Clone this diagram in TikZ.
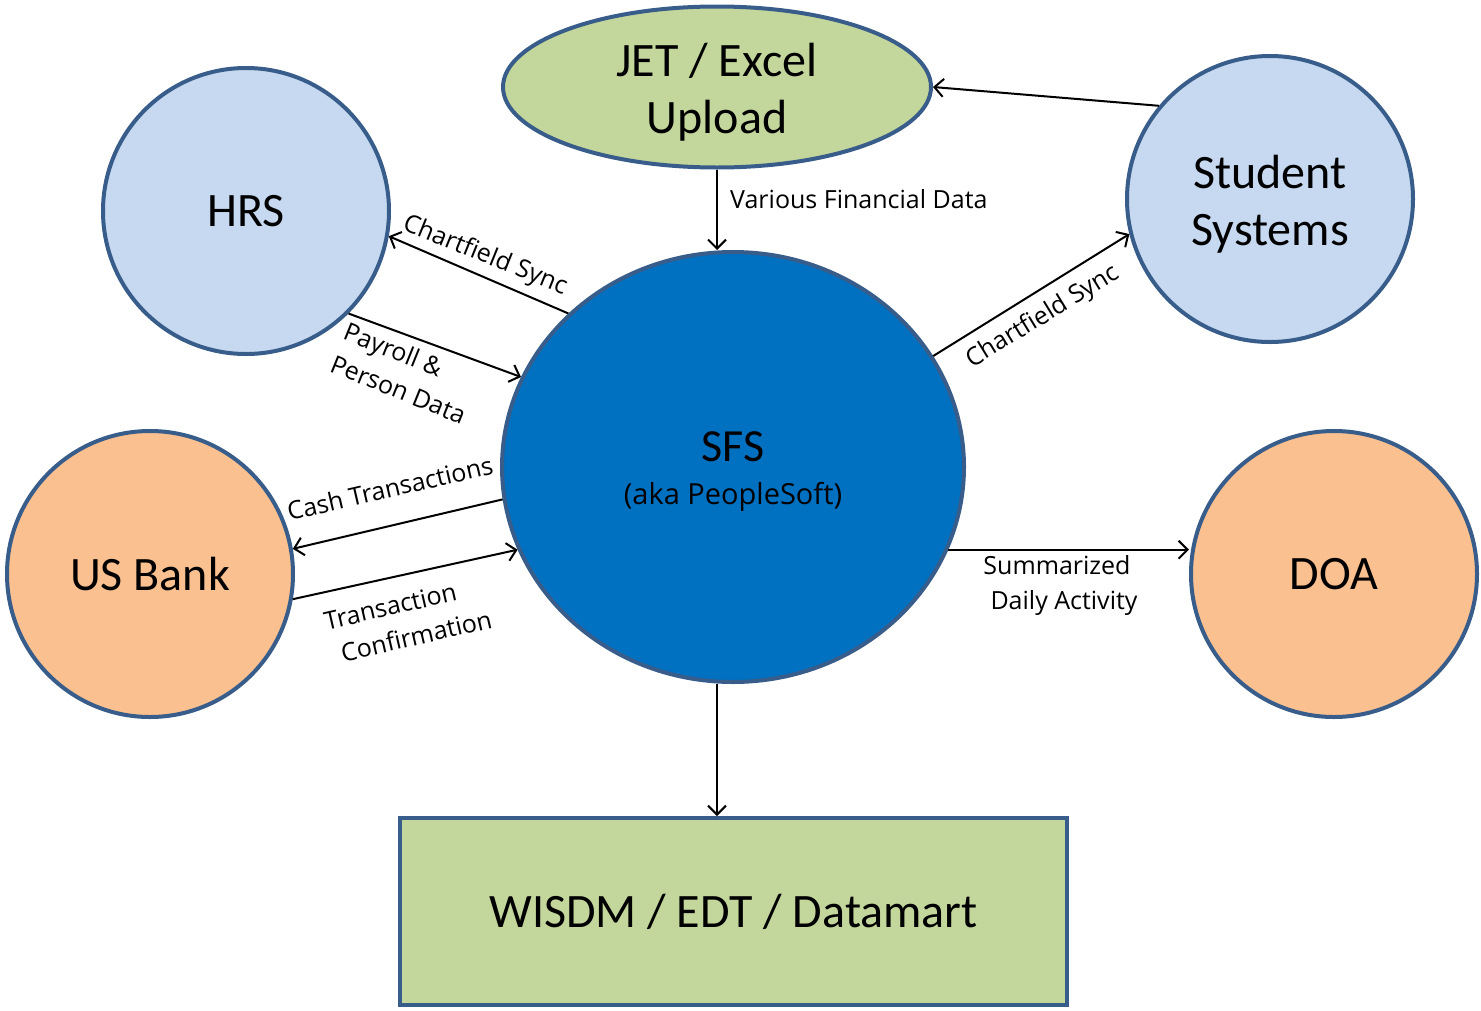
\documentclass[tikz,border=0pt]{standalone}
\usepackage{fontspec}
\setmainfont{Carlito}
\newfontfamily\lblfont{Open Sans}
\usetikzlibrary{shapes.geometric,arrows.meta}
\definecolor{bord}{HTML}{385D8A}
\definecolor{ltblue}{HTML}{C6D9F0}
\definecolor{ltgreen}{HTML}{C3D69B}
\definecolor{ltorange}{HTML}{FAC090}
\definecolor{sfsblue}{HTML}{0070C0}
\tikzset{
  sysnode/.style={circle, draw=bord, line width=4pt, minimum size=286pt, inner sep=0pt,
    font=\fontsize{48}{58}\selectfont, align=center},
  bigtext/.style={font=\fontsize{48}{57}\selectfont, align=center, inner sep=0pt},
  flow/.style={line width=2pt, -{Straight Barb[length=9pt,width=18pt,line width=2pt]}},
  lbl/.style={font=\lblfont\fontsize{25}{35}\selectfont, inner sep=0pt},
}
\begin{document}
\begin{tikzpicture}[x=1pt,y=-1pt]
\useasboundingbox (0,0) rectangle (1481,1010);
% nodes
\node[ellipse, draw=bord, line width=4pt, fill=ltgreen, minimum width=428pt, minimum height=161pt, inner sep=0pt] (jet) at (717,87) {};
\node[bigtext] (jett) at (717,92) {JET / Excel\\Upload};
\node[sysnode, fill=ltblue] (hrs) at (246,211) {HRS};
\node[sysnode, fill=ltblue] (stu) at (1270,199) {};
\node[bigtext] (stut) at (1270,204) {Student\\Systems};
\node[sysnode, fill=ltorange] (bank) at (150,574) {US Bank};
\node[sysnode, fill=ltorange] (doa) at (1334,574) {DOA};
\node[ellipse, draw=bord, line width=4pt, fill=sfsblue, minimum width=462pt, minimum height=430pt,
  inner sep=0pt] (sfs) at (733,467) {};
\node[font=\fontsize{46}{50}\selectfont, inner sep=0pt] (sfst) at (733,447) {SFS};
\node[lbl, font=\lblfont\fontsize{29}{35}\selectfont] (sfsa) at (733,497) {(aka PeopleSoft)};
\node[rectangle, draw=bord, line width=4pt, fill=ltgreen, minimum width=667pt, minimum height=187pt,
  font=\fontsize{48}{58}\selectfont] (wis) at (733.5,911.5) {WISDM / EDT / Datamart};
% connectors
\draw[flow] (jet.south) -- (jet.south |- sfs.north);
\draw[flow] (stu.140) -- (jet.east);
\draw[flow] (sfs.137) -- (hrs.-10.7);
\draw[flow] (hrs.-45) -- (sfs.157.5);
\draw[flow] (sfs.-172.4) -- (bank.10.6);
\draw[flow] (bank.-10.9) -- (sfs.-159);
\draw[flow] (sfs.29.5) -- (stu.194.6);
\draw[flow] (sfs.-21) -- (sfs.-21 -| doa.west);
\coordinate (sfsbot) at (sfs.south -| jet.south);
\draw[flow] (sfsbot) -- (wis.north -| jet.south);
% labels
\node[lbl, anchor=west] (l1) at (730,199) {Various Financial Data};
\node[lbl, rotate=-22] (l2) at (485,256) {Chartfield Sync};
\node[lbl, rotate=-22, align=left] (l3) at (405,373) {Payroll \&\\Person Data};
\node[lbl, rotate=13] (l4) at (390,488) {Cash Transactions};
\node[lbl, rotate=13, align=left] (l5) at (408,620) {Transaction\\\hspace*{9pt}Confirmation};
\node[lbl, rotate=31.5] (l6) at (1043,317) {Chartfield Sync};
\node[lbl, align=center] (l7) at (1057,585) {Summarized\\\hspace*{14pt}Daily Activity};
\end{tikzpicture}
\end{document}
